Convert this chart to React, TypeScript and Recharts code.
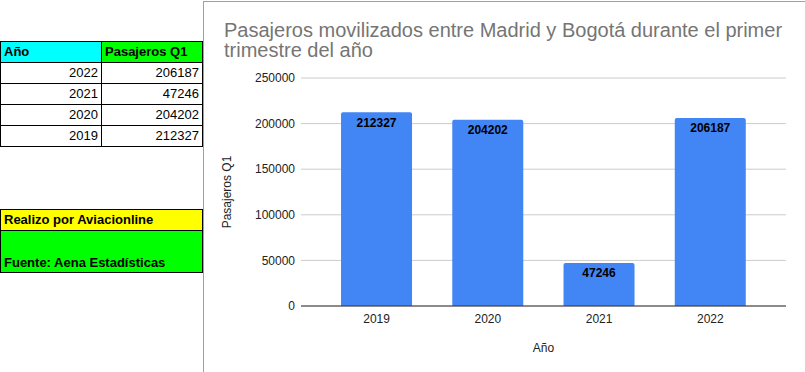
import React from 'react';
import { BarChart, Bar, XAxis, YAxis, CartesianGrid, LabelList, Label } from 'recharts';

const years = ['2019', '2020', '2021', '2022'];
const passengers = [212327, 204202, 47246, 206187];
const yTicks = [0, 50000, 100000, 150000, 200000, 250000];
const titleLines = ['Pasajeros movilizados entre Madrid y Bogotá durante el primer', 'trimestre del año'];
const tableHeaders = ['Año', 'Pasajeros Q1'];
const creditLines = ['Realizo por Aviacionline', 'Fuente: Aena Estadísticas'];

const data = years.map((y, i) => ({ year: y, value: passengers[i] }));
const tableRows = years.map((y, i) => ({ year: y, value: passengers[i] })).reverse();

const FONT = '"Liberation Sans", Arial, sans-serif';

function Cell({ x0, x1, y0, y1, bg, children, style }: any) {
  return (
    <div
      style={{
        position: 'absolute',
        left: x0,
        top: y0,
        width: x1 - x0 + 1,
        height: y1 - y0 + 1,
        boxSizing: 'border-box',
        border: '1px solid #000',
        background: bg || '#fff',
        fontSize: 13,
        lineHeight: '20px',
        color: '#000',
        whiteSpace: 'nowrap',
        overflow: 'hidden',
        ...style,
      }}
    >
      {children}
    </div>
  );
}

export default function App() {
  const rowY = [62, 83, 104, 125, 146];
  return (
    <div
      style={{
        position: 'absolute',
        left: 0,
        top: 0,
        width: 805,
        height: 372,
        background: '#fff',
        overflow: 'hidden',
        fontFamily: FONT,
      }}
    >
      {/* chart panel border */}
      <div
        style={{
          position: 'absolute',
          left: 203,
          top: 1,
          width: 700,
          height: 500,
          boxSizing: 'border-box',
          border: '1px solid #a0a0a0',
        }}
      />
      {/* table header */}
      <Cell x0={0} x1={101} y0={41} y1={62} bg="#00ffff" style={{ fontWeight: 'bold', paddingLeft: 3 }}>
        {tableHeaders[0]}
      </Cell>
      <Cell x0={101} x1={202} y0={41} y1={62} bg="#00ff00" style={{ fontWeight: 'bold', paddingLeft: 3 }}>
        {tableHeaders[1]}
      </Cell>
      {tableRows.map((r, i) => (
        <React.Fragment key={r.year}>
          <Cell x0={0} x1={101} y0={rowY[i]} y1={rowY[i + 1]} style={{ textAlign: 'right', paddingRight: 3 }}>
            {r.year}
          </Cell>
          <Cell x0={101} x1={202} y0={rowY[i]} y1={rowY[i + 1]} style={{ textAlign: 'right', paddingRight: 3 }}>
            {r.value}
          </Cell>
        </React.Fragment>
      ))}
      <Cell x0={0} x1={202} y0={209} y1={230} bg="#ffff00" style={{ fontWeight: 'bold', paddingLeft: 3 }}>
        {creditLines[0]}
      </Cell>
      <Cell
        x0={0}
        x1={202}
        y0={230}
        y1={272}
        bg="#00ff00"
        style={{ fontWeight: 'bold', paddingLeft: 3, display: 'flex', alignItems: 'flex-end', lineHeight: '18px' }}
      >
        {creditLines[1]}
      </Cell>

      {/* title */}
      <div
        style={{
          position: 'absolute',
          left: 224,
          top: 20,
          fontSize: 20,
          lineHeight: '20px',
          color: '#757575',
          whiteSpace: 'nowrap',
          fontFamily: FONT,
        }}
      >
        {titleLines[0]}
        <br />
        {titleLines[1]}
      </div>

      <div style={{ position: 'absolute', left: 0, top: 0 }}>
        <BarChart
          width={805}
          height={372}
          data={data}
          margin={{ top: 78, right: 19, bottom: 6, left: 229 }}
          barCategoryGap="18%"
          style={{ fontFamily: FONT }}
        >
          <CartesianGrid horizontal vertical={false} stroke="#cccccc" />
          <XAxis
            dataKey="year"
            height={60}
            padding={{ left: 20, right: 20 }}
            tickLine={false}
            axisLine={{ stroke: '#333333' }}
            tick={{ fontSize: 12, fill: '#222222' }}
          >
            <Label value="Año" position="insideBottom" offset={14} style={{ fontSize: 12, fill: '#222222' }} />
          </XAxis>
          <YAxis
            width={72}
            domain={[0, 250000]}
            ticks={yTicks}
            interval={0}
            tickLine={false}
            axisLine={false}
            tickMargin={0}
            tick={{ fontSize: 12, fill: '#222222' }}
            label={{
              content: (props: any) => {
                const vb = props.viewBox || { x: 229, y: 78, width: 72, height: 228 };
                const cx = 231;
                const cy = vb.y + vb.height / 2;
                return (
                  <text
                    x={cx}
                    y={cy}
                    transform={`rotate(-90, ${cx}, ${cy})`}
                    textAnchor="middle"
                    fontSize={12}
                    fill="#222222"
                    fontFamily={FONT}
                  >
                    Pasajeros Q1
                  </text>
                );
              },
            }}
          />
          <Bar dataKey="value" fill="#4285f4" radius={[2, 2, 0, 0]} isAnimationActive={false}>
            <LabelList
              dataKey="value"
              position="insideTop"
              offset={6}
              style={{ fontSize: 12, fontWeight: 'bold', fill: '#000000' }}
            />
          </Bar>
        </BarChart>
      </div>
    </div>
  );
}
